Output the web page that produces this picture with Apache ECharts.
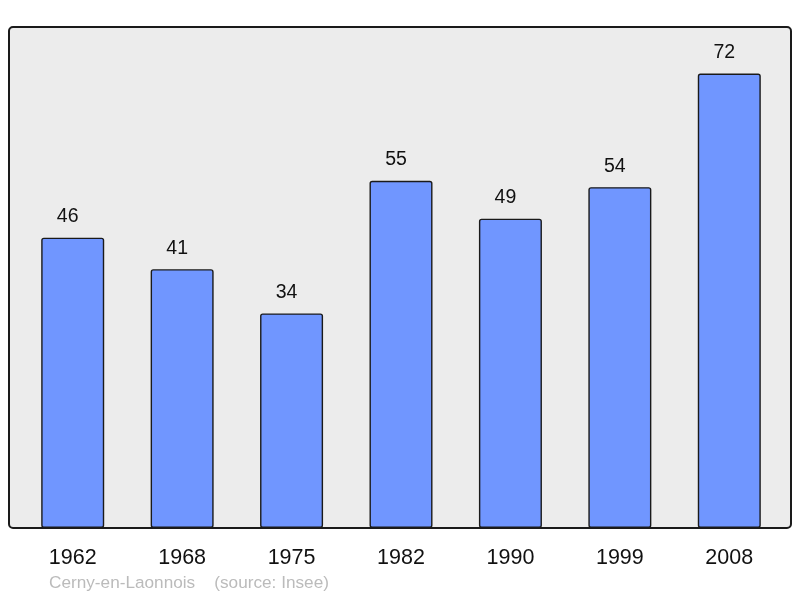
<!DOCTYPE html>
<html><head><meta charset="utf-8">
<script src="https://cdn.jsdelivr.net/npm/echarts@6/dist/echarts.min.js"></script>
<style>html,body{margin:0;padding:0;background:#fff}#c{width:800px;height:598px}</style>
</head><body><div id="c"></div>
<script>
const years = ['1962','1968','1975','1982','1990','1999','2008'];
const population = [46, 41, 34, 55, 49, 54, 72];
const footer = 'Cerny-en-Laonnois    (source: Insee)';

const chart = echarts.init(document.getElementById('c'), null, {renderer:'canvas'});
chart.setOption({
  animation:false,
  backgroundColor:'#ffffff',
  graphic:[
    {type:'rect', z:-10, shape:{x:9,y:27,width:782,height:501,r:4},
     style:{fill:'#ececec', stroke:'#1a1a1a', lineWidth:2}},
    {type:'text', left:49, top:575, style:{text:footer, fill:'#bbbbbb', font:'17.2px "Liberation Sans", Arial, sans-serif'}}
  ],
  grid:{left:18, right:16, top:23, bottom:70},
  xAxis:{type:'category', data:years,
    axisLine:{show:false}, axisTick:{show:false},
    axisLabel:{color:'#111', fontSize:21.5, fontFamily:'Liberation Sans, Arial, sans-serif', margin:19}},
  yAxis:{type:'value', min:0, max:80, show:false, splitLine:{show:false}},
  series:[{type:'bar', data:population, barWidth:63,
    itemStyle:{color:'#7096ff', borderColor:'#1a1a1a', borderWidth:1.4, borderRadius:2},
    label:{show:true, position:'top', distance:11, offset:[-5,0], color:'#111', fontSize:19.5,
      fontFamily:'Liberation Sans, Arial, sans-serif'}}]
});
</script></body></html>
